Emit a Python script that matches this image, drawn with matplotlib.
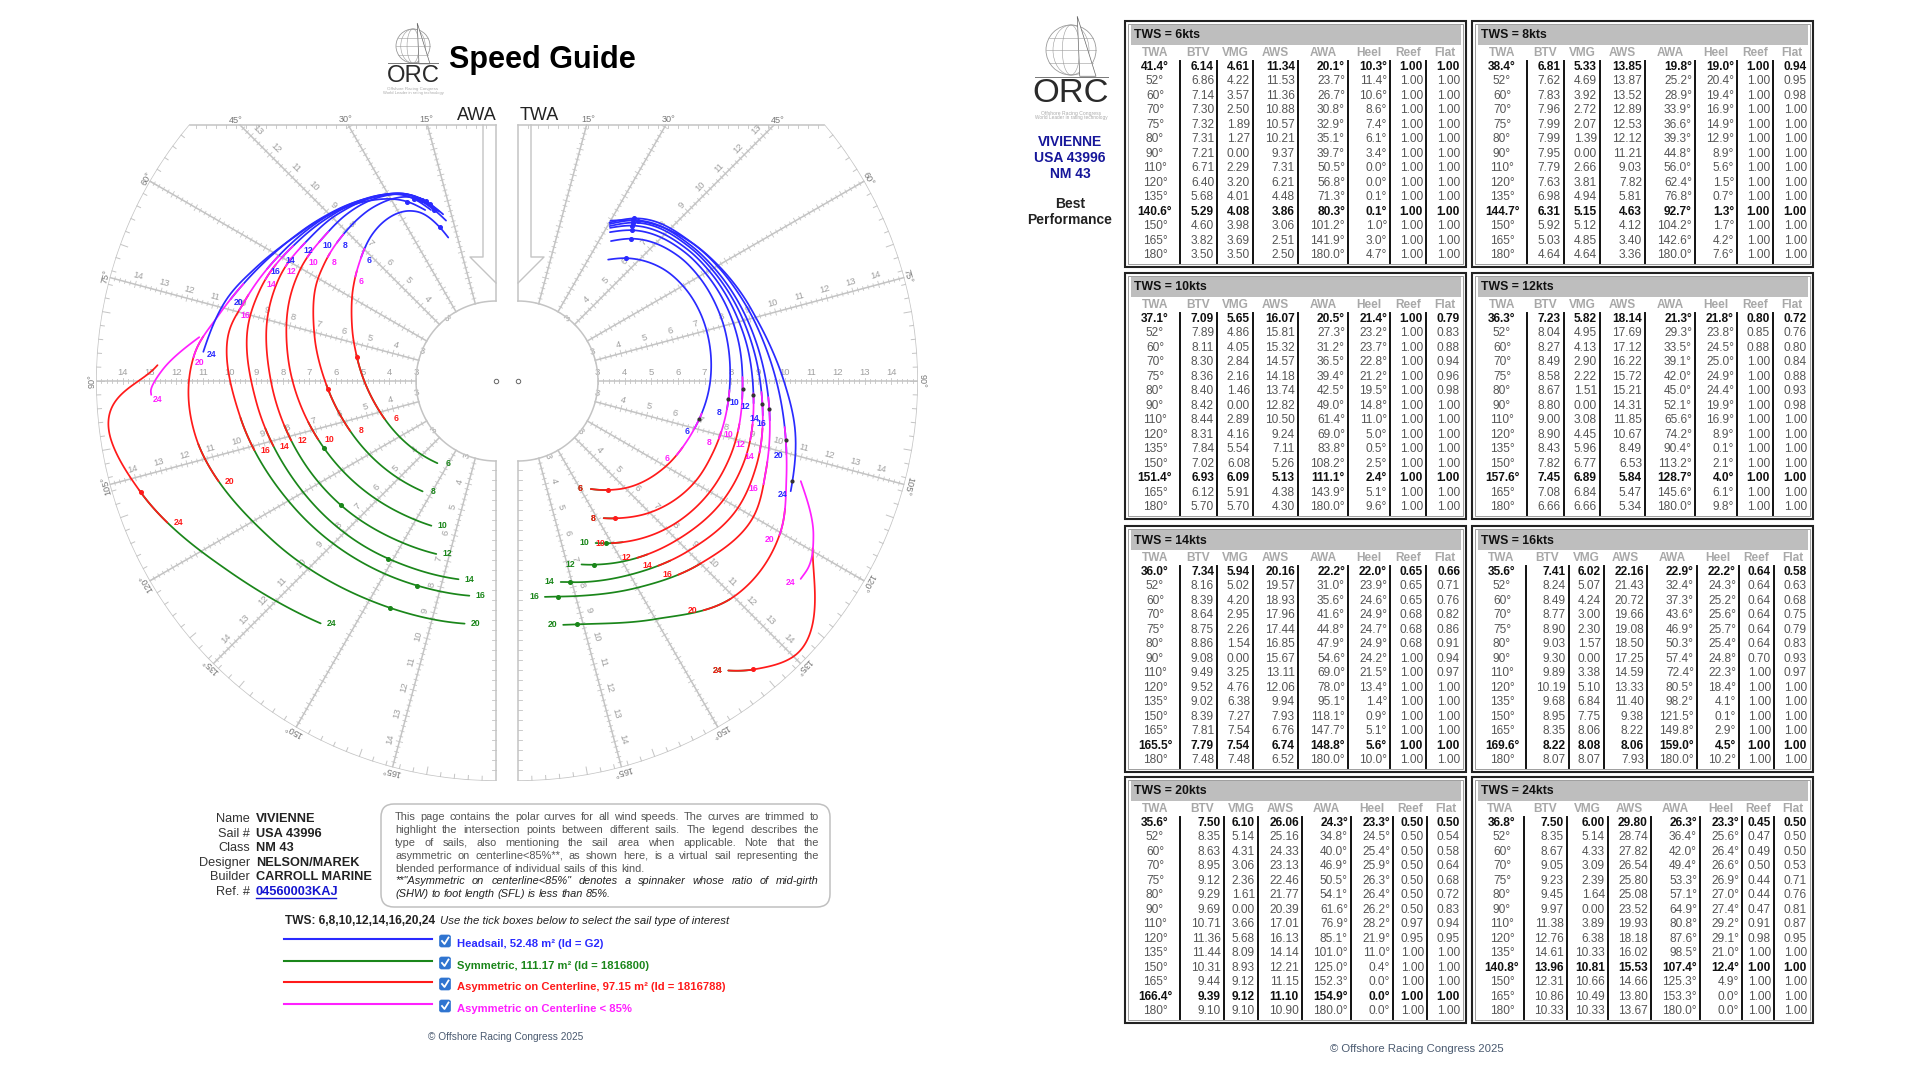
import numpy as np
import matplotlib
matplotlib.use('Agg')
import matplotlib.pyplot as plt
from matplotlib.patches import Rectangle, FancyBboxPatch, Ellipse, Circle

plt.rcParams['font.family'] = ['Liberation Sans', 'DejaVu Sans']

# speed guide tables, one entry per wind speed
tws_list = [6, 8, 10, 12, 14, 16, 20, 24]
run_row = [10, 10, 11, 11, 12, 12, 12, 10]

twa = {
    6: [41.4, 52, 60, 70, 75, 80, 90, 110, 120, 135, 140.6, 150, 165, 180],
    8: [38.4, 52, 60, 70, 75, 80, 90, 110, 120, 135, 144.7, 150, 165, 180],
    10: [37.1, 52, 60, 70, 75, 80, 90, 110, 120, 135, 150, 151.4, 165, 180],
    12: [36.3, 52, 60, 70, 75, 80, 90, 110, 120, 135, 150, 157.6, 165, 180],
    14: [36.0, 52, 60, 70, 75, 80, 90, 110, 120, 135, 150, 165, 165.5, 180],
    16: [35.6, 52, 60, 70, 75, 80, 90, 110, 120, 135, 150, 165, 169.6, 180],
    20: [35.6, 52, 60, 70, 75, 80, 90, 110, 120, 135, 150, 165, 166.4, 180],
    24: [36.8, 52, 60, 70, 75, 80, 90, 110, 120, 135, 140.8, 150, 165, 180],
}
btv = {
    6: [6.14, 6.86, 7.14, 7.30, 7.32, 7.31, 7.21, 6.71, 6.40, 5.68, 5.29, 4.60, 3.82, 3.50],
    8: [6.81, 7.62, 7.83, 7.96, 7.99, 7.99, 7.95, 7.79, 7.63, 6.98, 6.31, 5.92, 5.03, 4.64],
    10: [7.09, 7.89, 8.11, 8.30, 8.36, 8.40, 8.42, 8.44, 8.31, 7.84, 7.02, 6.93, 6.12, 5.70],
    12: [7.23, 8.04, 8.27, 8.49, 8.58, 8.67, 8.80, 9.00, 8.90, 8.43, 7.82, 7.45, 7.08, 6.66],
    14: [7.34, 8.16, 8.39, 8.64, 8.75, 8.86, 9.08, 9.49, 9.52, 9.02, 8.39, 7.81, 7.79, 7.48],
    16: [7.41, 8.24, 8.49, 8.77, 8.90, 9.03, 9.30, 9.89, 10.19, 9.68, 8.95, 8.35, 8.22, 8.07],
    20: [7.50, 8.35, 8.63, 8.95, 9.12, 9.29, 9.69, 10.71, 11.36, 11.44, 10.31, 9.44, 9.39, 9.10],
    24: [7.50, 8.35, 8.67, 9.05, 9.23, 9.45, 9.97, 11.38, 12.76, 14.61, 13.96, 12.31, 10.86, 10.33],
}
vmg = {
    6: [4.61, 4.22, 3.57, 2.50, 1.89, 1.27, 0.00, 2.29, 3.20, 4.01, 4.08, 3.98, 3.69, 3.50],
    8: [5.33, 4.69, 3.92, 2.72, 2.07, 1.39, 0.00, 2.66, 3.81, 4.94, 5.15, 5.12, 4.85, 4.64],
    10: [5.65, 4.86, 4.05, 2.84, 2.16, 1.46, 0.00, 2.89, 4.16, 5.54, 6.08, 6.09, 5.91, 5.70],
    12: [5.82, 4.95, 4.13, 2.90, 2.22, 1.51, 0.00, 3.08, 4.45, 5.96, 6.77, 6.89, 6.84, 6.66],
    14: [5.94, 5.02, 4.20, 2.95, 2.26, 1.54, 0.00, 3.25, 4.76, 6.38, 7.27, 7.54, 7.54, 7.48],
    16: [6.02, 5.07, 4.24, 3.00, 2.30, 1.57, 0.00, 3.38, 5.10, 6.84, 7.75, 8.06, 8.08, 8.07],
    20: [6.10, 5.14, 4.31, 3.06, 2.36, 1.61, 0.00, 3.66, 5.68, 8.09, 8.93, 9.12, 9.12, 9.10],
    24: [6.00, 5.14, 4.33, 3.09, 2.39, 1.64, 0.00, 3.89, 6.38, 10.33, 10.81, 10.66, 10.49, 10.33],
}
aws = {
    6: [11.34, 11.53, 11.36, 10.88, 10.57, 10.21, 9.37, 7.31, 6.21, 4.48, 3.86, 3.06, 2.51, 2.50],
    8: [13.85, 13.87, 13.52, 12.89, 12.53, 12.12, 11.21, 9.03, 7.82, 5.81, 4.63, 4.12, 3.40, 3.36],
    10: [16.07, 15.81, 15.32, 14.57, 14.18, 13.74, 12.82, 10.50, 9.24, 7.11, 5.26, 5.13, 4.38, 4.30],
    12: [18.14, 17.69, 17.12, 16.22, 15.72, 15.21, 14.31, 11.85, 10.67, 8.49, 6.53, 5.84, 5.47, 5.34],
    14: [20.16, 19.57, 18.93, 17.96, 17.44, 16.85, 15.67, 13.11, 12.06, 9.94, 7.93, 6.76, 6.74, 6.52],
    16: [22.16, 21.43, 20.72, 19.66, 19.08, 18.50, 17.25, 14.59, 13.33, 11.40, 9.38, 8.22, 8.06, 7.93],
    20: [26.06, 25.16, 24.33, 23.13, 22.46, 21.77, 20.39, 17.01, 16.13, 14.14, 12.21, 11.15, 11.10, 10.90],
    24: [29.80, 28.74, 27.82, 26.54, 25.80, 25.08, 23.52, 19.93, 18.18, 16.02, 15.53, 14.66, 13.80, 13.67],
}
awa = {
    6: [20.1, 23.7, 26.7, 30.8, 32.9, 35.1, 39.7, 50.5, 56.8, 71.3, 80.3, 101.2, 141.9, 180.0],
    8: [19.8, 25.2, 28.9, 33.9, 36.6, 39.3, 44.8, 56.0, 62.4, 76.8, 92.7, 104.2, 142.6, 180.0],
    10: [20.5, 27.3, 31.2, 36.5, 39.4, 42.5, 49.0, 61.4, 69.0, 83.8, 108.2, 111.1, 143.9, 180.0],
    12: [21.3, 29.3, 33.5, 39.1, 42.0, 45.0, 52.1, 65.6, 74.2, 90.4, 113.2, 128.7, 145.6, 180.0],
    14: [22.2, 31.0, 35.6, 41.6, 44.8, 47.9, 54.6, 69.0, 78.0, 95.1, 118.1, 147.7, 148.8, 180.0],
    16: [22.9, 32.4, 37.3, 43.6, 46.9, 50.3, 57.4, 72.4, 80.5, 98.2, 121.5, 149.8, 159.0, 180.0],
    20: [24.3, 34.8, 40.0, 46.9, 50.5, 54.1, 61.6, 76.9, 85.1, 101.0, 125.0, 152.3, 154.9, 180.0],
    24: [26.3, 36.4, 42.0, 49.4, 53.3, 57.1, 64.9, 80.8, 87.6, 98.5, 107.4, 125.3, 153.3, 180.0],
}
heel = {
    6: [10.3, 11.4, 10.6, 8.6, 7.4, 6.1, 3.4, 0.0, 0.0, 0.1, 0.1, 1.0, 3.0, 4.7],
    8: [19.0, 20.4, 19.4, 16.9, 14.9, 12.9, 8.9, 5.6, 1.5, 0.7, 1.3, 1.7, 4.2, 7.6],
    10: [21.4, 23.2, 23.7, 22.8, 21.2, 19.5, 14.8, 11.0, 5.0, 0.5, 2.5, 2.4, 5.1, 9.6],
    12: [21.8, 23.8, 24.5, 25.0, 24.9, 24.4, 19.9, 16.9, 8.9, 0.1, 2.1, 4.0, 6.1, 9.8],
    14: [22.0, 23.9, 24.6, 24.9, 24.7, 24.9, 24.2, 21.5, 13.4, 1.4, 0.9, 5.1, 5.6, 10.0],
    16: [22.2, 24.3, 25.2, 25.6, 25.7, 25.4, 24.8, 22.3, 18.4, 4.1, 0.1, 2.9, 4.5, 10.2],
    20: [23.3, 24.5, 25.4, 25.9, 26.3, 26.4, 26.2, 28.2, 21.9, 11.0, 0.4, 0.0, 0.0, 0.0],
    24: [23.3, 25.6, 26.4, 26.6, 26.9, 27.0, 27.4, 29.2, 29.1, 21.0, 12.4, 4.9, 0.0, 0.0],
}
reef = {
    6: [1.00] * 14,
    8: [1.00] * 14,
    10: [1.00] * 14,
    12: [0.80, 0.85, 0.88] + [1.00] * 11,
    14: [0.65, 0.65, 0.65, 0.68, 0.68, 0.68] + [1.00] * 8,
    16: [0.64, 0.64, 0.64, 0.64, 0.64, 0.64, 0.70] + [1.00] * 7,
    20: [0.50] * 7 + [0.97, 0.95] + [1.00] * 5,
    24: [0.45, 0.47, 0.49, 0.50, 0.44, 0.44, 0.47, 0.91, 0.98] + [1.00] * 5,
}
flat = {
    6: [1.00] * 14,
    8: [0.94, 0.95, 0.98] + [1.00] * 11,
    10: [0.79, 0.83, 0.88, 0.94, 0.96, 0.98] + [1.00] * 8,
    12: [0.72, 0.76, 0.80, 0.84, 0.88, 0.93, 0.98] + [1.00] * 7,
    14: [0.66, 0.71, 0.76, 0.82, 0.86, 0.91, 0.94, 0.97] + [1.00] * 6,
    16: [0.58, 0.63, 0.68, 0.75, 0.79, 0.83, 0.93, 0.97] + [1.00] * 6,
    20: [0.50, 0.54, 0.58, 0.64, 0.68, 0.72, 0.83, 0.94, 0.95] + [1.00] * 5,
    24: [0.50, 0.50, 0.50, 0.53, 0.71, 0.76, 0.81, 0.87, 0.95] + [1.00] * 5,
}

blue_start_twa = [36.6, 33.6, 31.7, 31.0, 30.6, 30.3, 30.0, 30.0]
blue_start_btv = [5.67, 6.30, 6.56, 6.70, 6.75, 6.82, 6.86, 6.94]
blue_start_awa = [18.4, 17.3, 17.6, 18.5, 19.0, 19.8, 20.8, 22.5]
blue_end = [105, 97.7, 94.6, 95.4, 98, 98.9, 104.9, 112]
mag_start = [100, 92.5, 89, 93, 92.6, 93.7, 99.8, 109.5]
mag_end = [115, 106, 102.8, 104.3, 106.5, 112.8, 120.5, 125]
red_start = [112, 104, 101, 100.5, 101, 108, 115.6, 119.6]
red_end = [153, 152, 150, 146, 142.8, 140.4, 141, 144]
green_start = [140, 144, 147, 143.3, 139.7, 135, 135.7, 140.6]
right_trim = [146, 148, 154.4, 160.9, 168, 172.9, 169.5, 144]
left_trim = [166, 166.5, 170, 171.7, 175, 176.5, 176, 160]
cross_twa = [102, 95, 92, 93.4, 95.4, 96.4, 102.4, 110]

# at 24 kts the headsail and the <85% sail leave the best-performance table
blue24_twa = [30.0, 36.8, 52, 60, 70, 75, 80, 90, 100, 112]
blue24_btv = [6.94, 7.50, 8.35, 8.67, 9.05, 9.23, 9.45, 9.97, 10.55, 11.03]
blue24_awa = [22.5, 26.3, 36.4, 42.0, 49.4, 53.3, 57.1, 64.9, 73.0, 84.3]
mag24_twa = [109.5, 117.6, 122.7, 125]
mag24_btv = [11.25, 12.50, 12.94, 12.94]
mag24_awa = [81.6, 88.0, 91.4, 92.3]

BLUE = '#2a2aff'
GREEN = '#1a861a'
RED = '#ff1a1a'
MAG = '#ff20ff'
GRID = '#c4c4c4'

fig = plt.figure(figsize=(19.2, 10.8), dpi=100)

# page axes in pixels, for everything that is page layout
page = fig.add_axes([0, 0, 1, 1])
page.set_xlim(0, 1920)
page.set_ylim(1080, 0)
page.axis('off')


def hermite(x, y, xq):
    x = np.asarray(x, float)
    y = np.asarray(y, float)
    m = np.gradient(y, x)
    i = np.clip(np.searchsorted(x, xq) - 1, 0, len(x) - 2)
    h = x[i + 1] - x[i]
    t = (xq - x[i]) / h
    return ((2*t**3 - 3*t**2 + 1)*y[i] + (t**3 - 2*t**2 + t)*h*m[i]
            + (-2*t**3 + 3*t**2)*y[i + 1] + (t**3 - t**2)*h*m[i + 1])


def sail_curve(k, key, a, b, side):
    s = tws_list[k]
    xs = [blue_start_twa[k]] + twa[s]
    vs = [blue_start_btv[k]] + btv[s]
    an = [blue_start_awa[k]] + awa[s]
    if s == 24 and key == 'b':
        xs, vs, an = blue24_twa, blue24_btv, blue24_awa
    if s == 24 and key == 'm':
        xs, vs, an = mag24_twa, mag24_btv, mag24_awa
    q = np.linspace(a, b, 80)
    speed = hermite(xs, vs, q)
    if side == 'right':
        angle = q
    else:
        angle = hermite(xs, an, q)
    return np.radians(angle), speed


def make_polar(center_x, direction):
    ax = fig.add_axes([(center_x - 400) / 1920, (1080 - 781) / 1080, 800 / 1920, 800 / 1080],
                      projection='polar')
    ax.set_theta_zero_location('N')
    ax.set_theta_direction(direction)
    ax.set_ylim(0, 15)
    ax.set_axis_off()
    ax.patch.set_alpha(0)
    return ax


def draw_frame(ax, side):
    # radial speed axes
    for deg in range(15, 180, 15):
        th = np.radians(deg)
        vend = 15.0
        if deg < 50:
            vend = 256 / np.cos(th) / 26.67
        ax.plot([th, th], [3, vend], color=GRID, lw=1.1, zorder=1)
        tv = np.arange(3, vend, 0.2)
        for v in tv:
            big = abs(v - round(v)) < 0.01
            d = (3.2 if big else 2.0) / (v * 26.67)
            ax.plot([th - d, th + d], [v, v], color=GRID, lw=0.6, zorder=1)
        if deg in (45, 75, 90, 105, 135, 165):
            for v in range(3, 15):
                if v > vend - 0.4:
                    continue
                rot = deg - 90 if side == 'left' else 90 - deg
                ax.text(th - 9 / (v * 26.67), v, str(v), color='#a0a0a0', fontsize=6.8,
                        rotation=rot, rotation_mode='anchor', ha='center', va='center', zorder=1)
        rot = deg if side == 'left' else -deg
        if deg < 50:
            ax.text(th, vend + 0.22, f'{deg}\N{DEGREE SIGN}', color='#777777', fontsize=6.6,
                    ha='center', va='center')
        else:
            ax.text(th, 15.14, f'{deg}\N{DEGREE SIGN}', color='#777777', fontsize=6.6,
                    rotation=rot, rotation_mode='anchor', ha='center', va='center')
    # hub and outer arc
    arc = np.radians(np.linspace(0, 180, 200))
    ax.plot(arc, np.full(200, 3.0), color=GRID, lw=1.1, zorder=1)
    arc = np.radians(np.linspace(50.2, 180, 200))
    ax.plot(arc, np.full(200, 15.0), color=GRID, lw=1.1, zorder=1)
    for deg in np.arange(52, 180, 2):
        ln = 0.3 if deg % 10 == 0 else 0.17
        ax.plot(np.radians([deg, deg]), [15 - ln, 15], color=GRID, lw=0.7, zorder=1)
    ax.plot([0], [0], 'o', ms=3.2, mfc='white', mec='#666666', mew=0.7, zorder=2)


def draw_sails(ax, side):
    offs = {'right': {'g': (-11, 0), 'r': (-11, 0), 'b': (-8, -3), 'm': (-10, -4)},
            'left': {'g': (11, 0), 'r': (11, 0), 'b': (8, -3), 'm': (6, -5)}}[side]
    trim = right_trim if side == 'right' else left_trim
    for k, s in enumerate(tws_list):
        stops = [('g', GREEN, green_start[k], trim[k]),
                 ('r', RED, red_start[k], min(red_end[k], right_trim[k]) if side == 'right' else red_end[k]),
                 ('b', BLUE, blue_start_twa[k], blue_end[k]),
                 ('m', MAG, mag_start[k], mag_end[k])]
        for key, col, a, b in stops:
            th, v = sail_curve(k, key, a, b, side)
            ax.plot(th, v, color=col, lw=1.25, zorder=3, solid_capstyle='round')
            ax.annotate(str(s), xy=(th[-1], v[-1]), xytext=offs[key], textcoords='offset pixels',
                        color=col, fontsize=6.2, fontweight='bold', ha='center', va='center',
                        annotation_clip=False, zorder=5)
        # beat and run points from the bold rows
        ang = twa[s] if side == 'right' else awa[s]
        ax.plot(np.radians(ang[0]), btv[s][0], 'o', ms=2.6, color=BLUE, zorder=4)
        r = run_row[k]
        ax.plot(np.radians(ang[r]), btv[s][r], 'o', ms=2.6, zorder=4,
                color=GREEN if twa[s][r] > red_end[k] else RED)
        if side == 'right':
            bt, bv = sail_curve(k, 'b', cross_twa[k], cross_twa[k], side)
            ax.plot(bt[0], bv[0], 'o', ms=2.0, color='#333333', zorder=4)


left = make_polar(496, 1)
right = make_polar(518, -1)
draw_frame(left, 'left')
draw_frame(right, 'right')
draw_sails(left, 'left')
draw_sails(right, 'right')

# straight edges of the two protractors, mirrored about the gap
for cx, sgn in [(496, -1), (518, 1)]:
    page.plot([cx + sgn * 306, cx], [125, 125], color=GRID, lw=1.1)
    page.plot([cx, cx], [125, 301], color=GRID, lw=1.1)
    page.plot([cx + sgn * 13, cx + sgn * 13, cx + sgn * 26, cx],
              [125, 257, 257, 283], color=GRID, lw=1.0)
    page.plot([cx, cx], [461, 780], color=GRID, lw=1.1)
    for x in np.arange(cx + sgn * 10, cx + sgn * 306, sgn * 10):
        page.plot([x, x], [125, 128], color=GRID, lw=0.6)
    for y in np.arange(470, 780, 10):
        page.plot([cx, cx + sgn * 4], [y, y], color=GRID, lw=0.6)


def draw_logo(cx, cy, r, line_y, text_y, fs, w):
    g = '#9a9a9a'
    page.add_patch(Circle((cx, cy), r, fill=False, ec=g, lw=0.6))
    for f in (0.35, 0.72):
        page.add_patch(Ellipse((cx, cy), 2 * r * f, 2 * r, fill=False, ec=g, lw=0.4))
    for f in (-0.5, 0, 0.5):
        hw = r * np.sqrt(1 - f**2)
        page.plot([cx - hw, cx + hw], [cy + f * r, cy + f * r], color=g, lw=0.4)
    page.fill([cx + 0.25 * r, cx + 1.0 * r, cx + 0.35 * r],
              [cy - 1.35 * r, cy + 1.05 * r, cy + 1.05 * r], color='white', ec='#666666', lw=0.5)
    page.plot([cx - w / 2, cx + w / 2], [line_y, line_y], color='#777777', lw=0.7)
    page.text(cx, text_y, 'ORC', color='#2a2a2a', fontsize=fs, ha='center', va='center')


draw_logo(413, 46, 17, 63, 76, 17.2, 50)
page.text(413, 89, 'Offshore Racing Congress', color='#aaaaaa', fontsize=3.2, ha='center', va='center')
page.text(413, 93, 'World Leader in rating technology', color='#aaaaaa', fontsize=3.0, ha='center', va='center')
draw_logo(1071, 50, 25, 77, 94, 24.8, 73)
page.text(1071, 113, 'Offshore Racing Congress', color='#aaaaaa', fontsize=3.6, ha='center', va='center')
page.text(1071, 118, 'World Leader in rating technology', color='#aaaaaa', fontsize=3.4, ha='center', va='center')

page.text(449, 60, 'Speed Guide', fontsize=22, fontweight='bold', color='black', ha='left', va='center')
page.text(477, 115, 'AWA', fontsize=13, color='#222222', ha='center', va='center')
page.text(539, 115, 'TWA', fontsize=13, color='#222222', ha='center', va='center')

for y, t in [(142, 'VIVIENNE'), (158, 'USA 43996'), (174, 'NM 43')]:
    page.text(1070, y, t, fontsize=10, fontweight='bold', color='#16169a', ha='center', va='center')
page.text(1070, 204, 'Best', fontsize=10, fontweight='bold', color='#222222', ha='center', va='center')
page.text(1070, 220, 'Performance', fontsize=10, fontweight='bold', color='#222222', ha='center', va='center')

# boat details
info_names = ['Name', 'Sail #', 'Class', 'Designer', 'Builder', 'Ref. #']
info_values = ['VIVIENNE', 'USA 43996', 'NM 43', 'NELSON/MAREK', 'CARROLL MARINE', '04560003KAJ']
for i in range(6):
    y = 819 + i * 14.6
    page.text(250, y, info_names[i], fontsize=9.2, color='#333333', ha='right', va='center')
    if i < 5:
        page.text(256, y, info_values[i], fontsize=9.2, fontweight='bold', color='#222222', va='center')
    else:
        page.text(256, y, info_values[i], fontsize=9.2, fontweight='bold', color='#1515d0', va='center')
        page.plot([256, 336], [y + 6, y + 6], color='#1515d0', lw=1)

# note box with justified lines
page.add_patch(FancyBboxPatch((381, 804), 449, 103, boxstyle='round,pad=0,rounding_size=13',
                              fc='white', ec='#c0c0c0', lw=1.1))
note_lines = [
    'This page contains the polar curves for all wind speeds. The curves are trimmed to',
    'highlight the intersection points between different sails. The legend describes the',
    'type of sails, also mentioning the sail area when applicable. Note that the',
    'asymmetric on centerline<85%**, as shown here, is a virtual sail representing the',
    'blended performance of individual sails of this kind.',
    '**"Asymmetric on centerline<85%" denotes a spinnaker whose ratio of mid-girth',
    '(SHW) to foot length (SFL) is less than 85%.',
]
note_justify = [True, True, True, True, False, True, False]
rend = fig.canvas.get_renderer()
for i, line in enumerate(note_lines):
    y = 817 + i * 12.9
    col = '#555555' if i < 5 else '#222222'
    style = 'normal' if i < 5 else 'italic'
    words = line.split(' ')
    items = [page.text(0, y, w, fontsize=7.9, color=col, style=style, va='center') for w in words]
    widths = [t.get_window_extent(rend).width for t in items]
    gap = 3.0
    if note_justify[i]:
        gap = (424 - sum(widths)) / (len(words) - 1)
    x = 395
    for t, w in zip(items, widths):
        t.set_x(x)
        x += w + gap

page.text(285, 921, 'TWS: 6,8,10,12,14,16,20,24', fontsize=8.6, fontweight='bold', color='#222222', va='center')
page.text(440, 921, 'Use the tick boxes below to select the sail type of interest', fontsize=8.2,
          style='italic', color='#222222', va='center')

legend_labels = ['Headsail, 52.48 m\N{SUPERSCRIPT TWO} (Id = G2)',
                 'Symmetric, 111.17 m\N{SUPERSCRIPT TWO} (Id = 1816800)',
                 'Asymmetric on Centerline, 97.15 m\N{SUPERSCRIPT TWO} (Id = 1816788)',
                 'Asymmetric on Centerline < 85%']
legend_cols = [BLUE, GREEN, RED, MAG]
legend_line_y = [939, 961, 982, 1004]
for i in range(4):
    y = legend_line_y[i]
    page.plot([284, 432], [y, y], color=legend_cols[i], lw=1.5)
    page.add_patch(FancyBboxPatch((439.5, y - 4), 11, 12, boxstyle='round,pad=0,rounding_size=2',
                                  fc='#2f74d0', ec='#2f74d0', lw=0.5))
    page.plot([442, 444.5, 448.5], [y + 2, y + 5, y - 1.5], color='white', lw=1.3)
    page.text(457, y + 5, legend_labels[i], fontsize=8.15, fontweight='bold', color=legend_cols[i], va='center')

page.text(506, 1037, '\N{COPYRIGHT SIGN} Offshore Racing Congress 2025', fontsize=7.3,
          color='#4a5a70', ha='center', va='center')
page.text(1417, 1049, '\N{COPYRIGHT SIGN} Offshore Racing Congress 2025', fontsize=8.2,
          color='#4a5a70', ha='center', va='center')

# best performance tables
col_names = ['TWA', 'BTV', 'VMG', 'AWS', 'AWA', 'Heel', 'Reef', 'Flat']
box_left = [1125, 1472] * 4
box_top = [21, 21, 273, 273, 526, 526, 777, 777]
default_lines = [55, 92, 128, 173, 223, 265, 301]
table_lines = {6: default_lines, 8: default_lines, 10: default_lines, 12: default_lines,
               14: default_lines, 16: [54, 97, 132, 175, 225, 267, 302],
               20: [55, 99, 133, 177, 226, 268, 302], 24: [52, 95, 136, 179, 228, 270, 302]}

for k, s in enumerate(tws_list):
    x0 = box_left[k]
    y0 = box_top[k]
    page.add_patch(Rectangle((x0, y0), 341, 246, fill=False, ec='#222222', lw=1.5))
    page.add_patch(Rectangle((x0 + 3, y0 + 3), 335, 240, fill=False, ec='#777777', lw=0.5))
    page.add_patch(Rectangle((x0 + 6, y0 + 4), 330, 20, fc='#bebebe', ec='none'))
    page.text(x0 + 9, y0 + 14.5, f'TWS = {s}kts', fontsize=8.8, fontweight='bold', color='#111111', va='center')
    ln = table_lines[s]
    for x in ln:
        page.plot([x0 + x, x0 + x], [y0 + 40, y0 + 242], color='#111111', lw=1.4)
    edges = [5] + ln + [339]
    for c in range(8):
        page.text(x0 + (edges[c] + edges[c + 1]) / 2, y0 + 32, col_names[c], fontsize=8.6,
                  fontweight='bold', color='#a8a8a8', ha='center', va='center')
    for r in range(14):
        y = y0 + 46 + r * 14.46
        bold = r == 0 or r == run_row[k]
        weight = 'bold' if bold else 'normal'
        col = '#111111' if bold else '#555555'
        cells = [f'{btv[s][r]:.2f}', f'{vmg[s][r]:.2f}', f'{aws[s][r]:.2f}',
                 f'{awa[s][r]:.1f}\N{DEGREE SIGN}', f'{heel[s][r]:.1f}\N{DEGREE SIGN}',
                 f'{reef[s][r]:.2f}', f'{flat[s][r]:.2f}']
        angle_text = f'{twa[s][r]:.1f}' if bold else f'{twa[s][r]:g}'
        page.text(x0 + 30, y, angle_text + '\N{DEGREE SIGN}', fontsize=8.6, fontweight=weight,
                  color=col, ha='center', va='center')
        rights = ln[1:] + [338]
        for c in range(7):
            page.text(x0 + rights[c] - 3, y, cells[c], fontsize=8.6, fontweight=weight, color=col,
                      ha='right', va='center')

fig.savefig('out.png', dpi=100)
